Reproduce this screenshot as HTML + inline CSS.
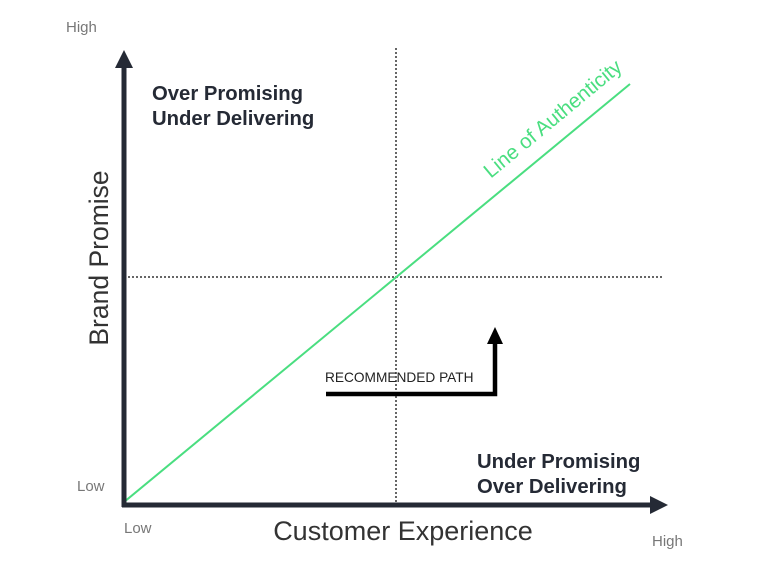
<!DOCTYPE html>
<html><head><style>body{margin:0;background:#fff}</style></head><body>
<svg width="772" height="559" viewBox="0 0 772 559" xmlns="http://www.w3.org/2000/svg" font-family="Liberation Sans, sans-serif">
<line x1="396" y1="48" x2="396" y2="503" stroke="#333" stroke-width="1.5" stroke-dasharray="2,2"/>
<line x1="124" y1="277" x2="664" y2="277" stroke="#333" stroke-width="1.5" stroke-dasharray="2,2"/>
<line x1="124" y1="502" x2="630" y2="84" stroke="#4ade80" stroke-width="2"/>
<line x1="124" y1="507" x2="124" y2="66" stroke="#252a35" stroke-width="5"/>
<polygon points="124,50 115,68 133,68" fill="#252a35"/>
<line x1="122" y1="505" x2="652" y2="505" stroke="#252a35" stroke-width="5"/>
<polygon points="668,505 650,496 650,514" fill="#252a35"/>
<polyline points="326,394 495,394 495,340" fill="none" stroke="#000" stroke-width="4.5"/>
<polygon points="495,327 487,344 503,344" fill="#000"/>
<text x="66" y="32" font-size="15" fill="#777">High</text>
<text x="77" y="491" font-size="15" fill="#777">Low</text>
<text x="124" y="533" font-size="15" fill="#777">Low</text>
<text x="652" y="546" font-size="15" fill="#777">High</text>
<text x="152" y="100" font-size="20.3" font-weight="bold" fill="#252a35">Over Promising</text>
<text x="152" y="125" font-size="20.3" font-weight="bold" fill="#252a35">Under Delivering</text>
<text x="477" y="468" font-size="20.3" font-weight="bold" fill="#252a35">Under Promising</text>
<text x="477" y="493" font-size="20.3" font-weight="bold" fill="#252a35">Over Delivering</text>
<text x="325" y="382" font-size="13.7" fill="#222">RECOMMENDED PATH</text>
<text x="403" y="540" font-size="27" fill="#333" text-anchor="middle">Customer Experience</text>
<text transform="translate(108,258) rotate(-90)" font-size="26.5" fill="#333" text-anchor="middle">Brand Promise</text>
<text transform="translate(557,124) rotate(-39.6)" font-size="20.5" fill="#4ade80" text-anchor="middle">Line of Authenticity</text>
</svg>
</body></html>
